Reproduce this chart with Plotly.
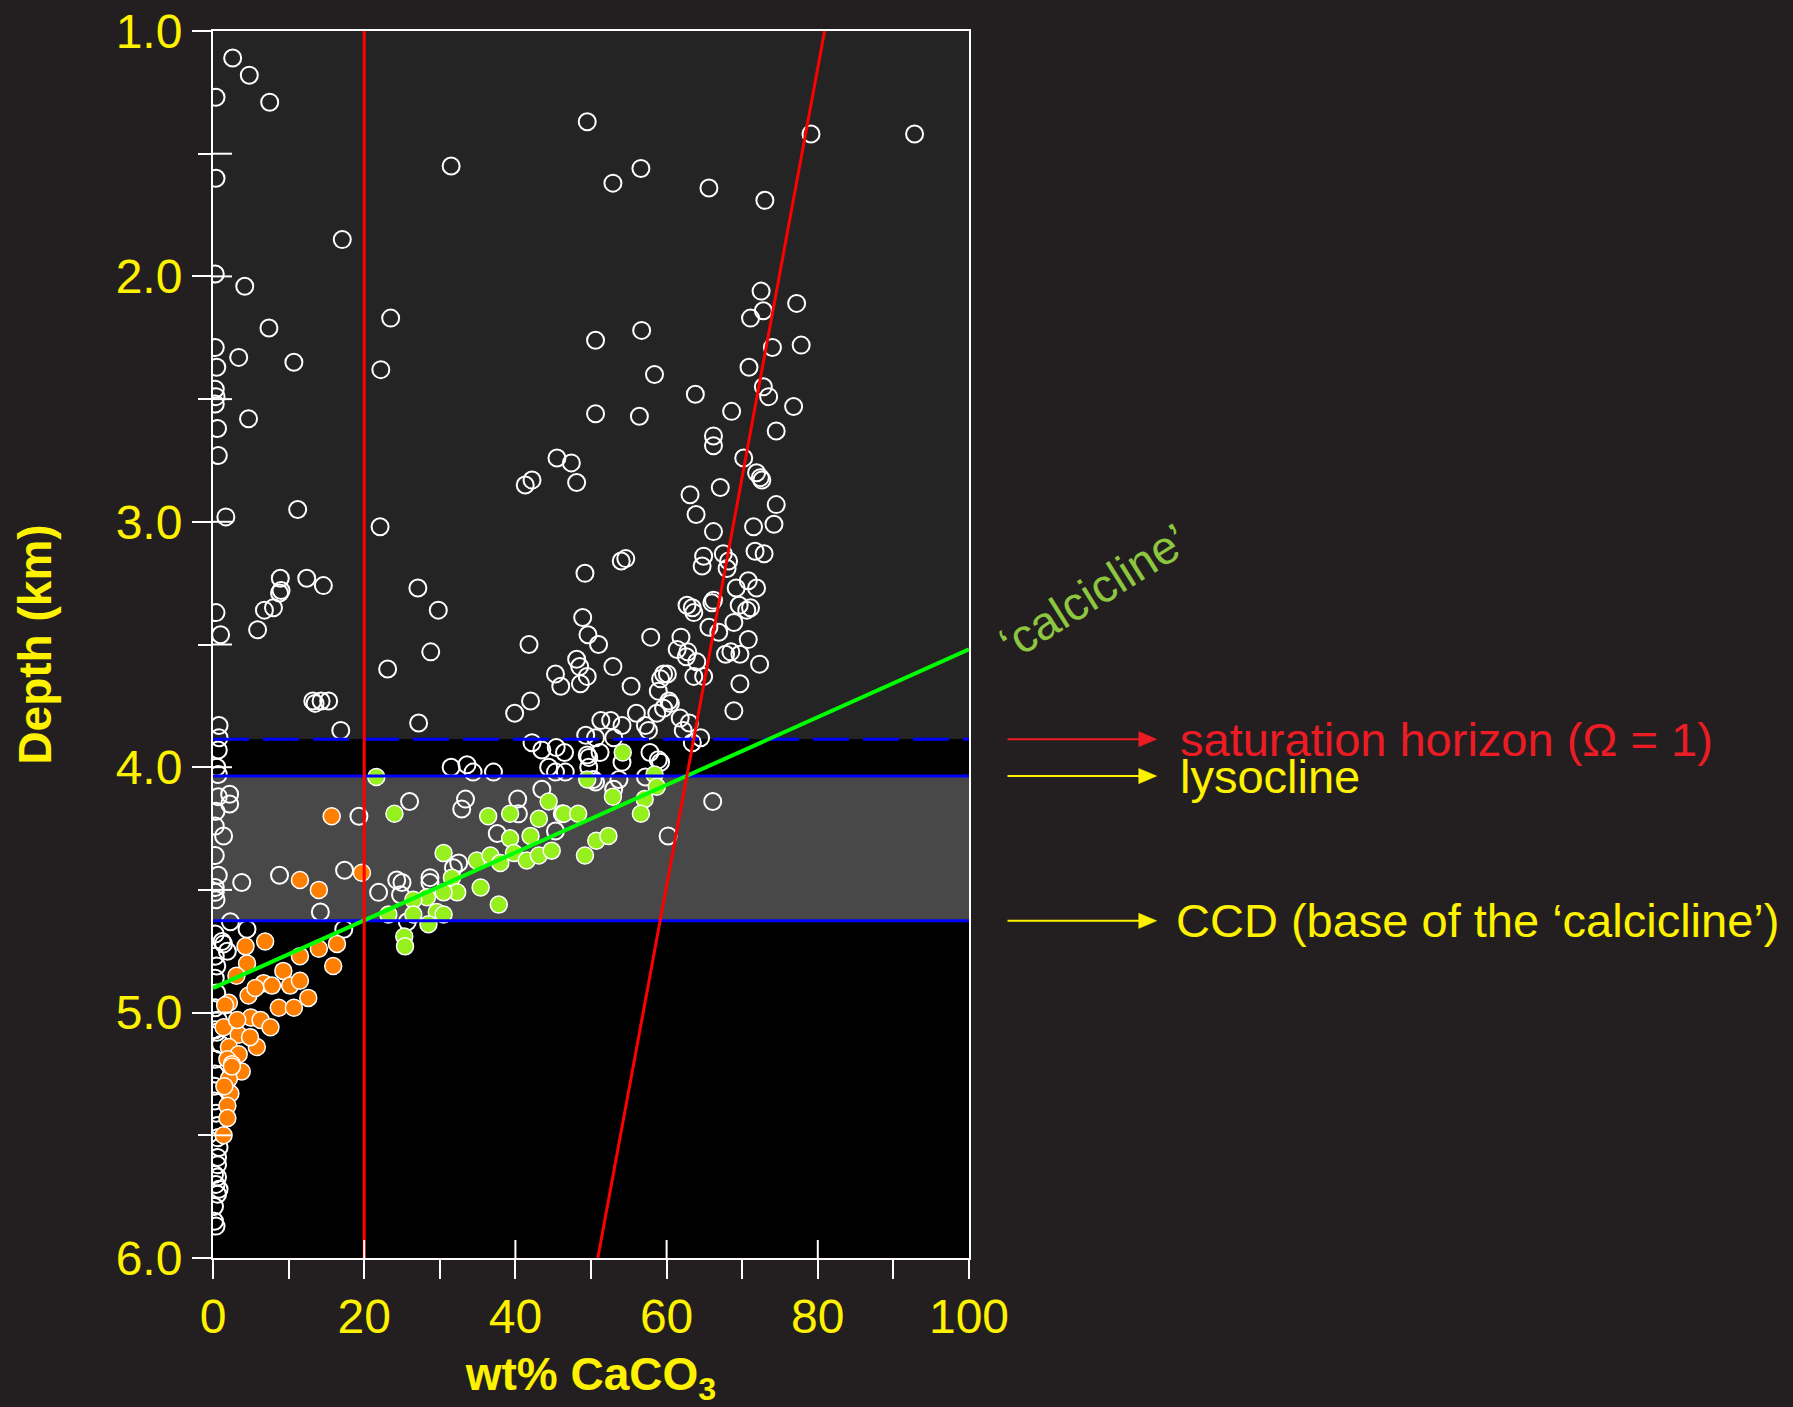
import plotly.graph_objects as go

# ---------------- data (wt% CaCO3, depth km) ----------------
WHITE_PCT = [
    2.6, 4.8, 0.4, 7.5, 49.5, 0.4, 31.5, 17.1, 0.3, 4.2, 23.5, 7.4, 50.6, 0.3, 3.4, 10.7, 22.2, 0.5, 0.3, 0.4, 0.3, 50.6, 4.7,
    79.1, 92.8, 52.9, 56.6, 65.6, 73.0, 72.5, 77.2, 72.8, 71.1, 56.7, 74.0, 77.8, 58.4, 70.9, 63.8, 72.8, 73.5, 76.8, 56.4, 68.6,
    0.6, 0.7, 45.5, 47.4, 48.1, 41.3, 42.2, 11.2, 1.7, 22.1, 49.2, 8.9, 12.4, 14.6, 9.0, 8.8, 27.1, 29.8, 6.8, 8.0, 0.4, 5.9, 1.0,
    48.9, 49.6, 51.0, 41.8, 28.8, 23.1, 48.1, 48.5, 45.3, 46.0, 49.5, 48.6, 42.0, 39.9, 13.2, 13.5, 14.3, 15.3, 16.9, 27.2, 0.8,
    0.8, 0.7, 51.3, 49.3, 42.2, 43.5, 45.4, 46.5, 49.5,
    74.5, 66.2, 66.2, 70.2, 71.9, 72.4, 72.6, 67.1, 63.1, 63.9, 74.5, 74.2, 71.5, 66.2, 71.7, 72.9, 64.9, 64.7, 67.5, 68.2, 68.0,
    54.0, 54.6, 70.8, 69.2, 71.9, 69.6, 71.1, 70.6, 66.2, 66.0, 62.7, 63.4, 63.6, 68.9, 65.6, 66.9, 70.8, 57.9, 61.9, 61.4, 62.8,
    62.6, 64.0, 67.8, 68.5, 69.7, 72.3, 52.9, 55.3, 59.6, 60.1, 59.2, 63.6, 64.9, 69.7, 58.9, 60.3, 60.5, 59.6, 56.0, 58.7, 68.9,
    52.6, 54.1, 57.2, 61.8, 63.0, 57.6, 62.2, 64.5, 63.4, 50.6, 53.0, 51.2, 57.8, 58.9,
    0.5, 0.7, 31.5, 33.6, 34.4, 37.1, 44.4, 45.3, 49.7, 50.3, 43.5, 0.7, 2.2, 2.2, 26.0, 33.4, 32.9, 40.3, 40.4, 46.2, 0.3, 1.4,
    19.3, 37.6, 45.3, 0.7, 3.8, 8.8, 17.4, 21.9, 24.3, 25.0, 24.8, 28.7, 28.7, 32.5, 31.8, 0.3, 0.3, 0.4, 14.2, 2.3, 4.5, 17.3,
    25.7, 0.3, 1.2, 1.9, 0.3, 0.5, 0.3, 0.5, 0.3, 0.7, 0.3,
    66.1, 60.2, 49.7, 54.1, 59.2, 57.2, 53.7, 50.6, 46.6, 1.4, 0.4, 0.3, 53.0,
    0.5, 0.3, 0.3, 0.2, 0.2, 0.4, 0.6, 0.8, 0.6, 0.6, 0.2, 0.6, 0.4, 0.8, 0.6, 0.2, 0.2, 0.4, 0.6, 1.0,
]
WHITE_DEPTH = [
    1.11, 1.18, 1.27, 1.29, 1.37, 1.60, 1.55, 1.85, 1.99, 2.04, 2.17, 2.21, 2.26, 2.29, 2.33, 2.35, 2.38, 2.37, 2.46, 2.49, 2.52, 2.56, 2.58,
    1.42, 1.42, 1.62, 1.56, 1.64, 1.69, 2.06, 2.11, 2.14, 2.17, 2.22, 2.29, 2.28, 2.40, 2.37, 2.48, 2.45, 2.49, 2.53, 2.57, 2.55,
    2.62, 2.73, 2.74, 2.76, 2.84, 2.85, 2.83, 2.95, 2.98, 3.02, 3.21, 3.23, 3.23, 3.26, 3.28, 3.29, 3.27, 3.36, 3.36, 3.35, 3.37, 3.44, 3.46,
    3.39, 3.46, 3.50, 3.50, 3.53, 3.60, 3.56, 3.59, 3.62, 3.67, 3.63, 3.66, 3.73, 3.78, 3.73, 3.74, 3.73, 3.73, 3.85, 3.82, 3.83,
    3.88, 3.93, 3.81, 3.87, 3.90, 3.93, 3.92, 3.94, 3.95,
    2.63, 2.65, 2.69, 2.74, 2.80, 2.82, 2.83, 2.86, 2.89, 2.97, 2.93, 3.01, 3.02, 3.04, 3.12, 3.13, 3.14, 3.18, 3.13, 3.16, 3.19,
    3.16, 3.15, 3.24, 3.27, 3.27, 3.34, 3.35, 3.36, 3.32, 3.33, 3.34, 3.35, 3.37, 3.41, 3.43, 3.45, 3.48, 3.47, 3.47, 3.52, 3.53,
    3.55, 3.57, 3.54, 3.53, 3.54, 3.58, 3.59, 3.67, 3.62, 3.62, 3.64, 3.63, 3.63, 3.66, 3.69, 3.73, 3.74, 3.76, 3.78, 3.78, 3.77,
    3.81, 3.83, 3.83, 3.80, 3.82, 3.85, 3.85, 3.88, 3.90, 3.88, 3.88, 3.94, 3.94, 3.97,
    4.00, 4.03, 4.00, 3.99, 4.02, 4.02, 4.00, 4.02, 4.00, 4.05, 4.09, 4.12, 4.11, 4.15, 4.14, 4.13, 4.17, 4.13, 4.19, 4.19, 4.24, 4.28,
    4.20, 4.27, 4.26, 4.44, 4.47, 4.44, 4.42, 4.51, 4.46, 4.47, 4.52, 4.45, 4.47, 4.39, 4.41, 4.49, 4.51, 4.54, 4.59, 4.63, 4.66, 4.66,
    4.63, 4.68, 4.71, 4.75, 4.77, 4.81, 4.86, 4.92, 4.98, 5.03, 5.07,
    4.14, 4.28, 3.96, 3.98, 3.98, 4.04, 4.05, 4.06, 4.02, 4.72, 4.18, 4.36, 4.09,
    5.08, 5.19, 5.25, 5.30, 5.36, 5.41, 5.51, 5.55, 5.59, 5.62, 5.66, 5.67, 5.70, 5.72, 5.74, 5.79, 5.85, 5.87, 5.46, 5.13,
]

ORANGE_PCT = [
    15.7, 11.5, 14.0, 19.7, 6.9, 4.3, 4.5, 3.1, 9.3, 11.5, 14.0, 16.4, 15.9, 6.7, 7.8, 10.2, 11.5, 4.7, 8.7, 10.7, 12.6,
    2.1, 5.0, 6.3, 7.6, 1.4, 3.4, 5.8, 2.1, 3.4, 1.9, 3.8, 2.1, 2.3, 1.9, 1.9, 1.4, 2.5, 1.5, 5.6, 1.6, 3.2, 4.9, 2.5,
]
ORANGE_DEPTH = [
    4.20, 4.46, 4.50, 4.43, 4.71, 4.73, 4.80, 4.85, 4.83, 4.77, 4.74, 4.72, 4.81, 4.88, 4.89, 4.89, 4.87, 4.93, 4.98, 4.98, 4.94,
    4.96, 5.02, 5.03, 5.06, 5.06, 5.09, 5.14, 5.14, 5.17, 5.19, 5.24, 5.27, 5.33, 5.38, 5.43, 5.50, 5.21, 5.30, 4.90, 4.97, 5.03, 5.10, 5.22,
]

GREEN_PCT = [
    21.6, 24.0, 36.4, 39.3, 43.1, 44.4, 46.4, 48.3, 49.5, 39.3, 42.0, 50.7, 30.5, 34.9, 36.7, 38.0, 39.8, 41.5, 43.1, 44.8, 49.2,
    31.6, 32.3, 30.5, 28.3, 26.5, 35.4, 37.8, 26.5, 29.6, 30.5, 23.2, 28.5, 25.3, 25.4, 54.2, 58.4, 58.7, 52.9, 57.1, 56.6, 52.3,
]
GREEN_DEPTH = [
    4.04, 4.19, 4.20, 4.19, 4.21, 4.14, 4.19, 4.19, 4.05, 4.29, 4.28, 4.30, 4.35, 4.38, 4.36, 4.39, 4.35, 4.38, 4.36, 4.34, 4.36,
    4.45, 4.51, 4.51, 4.53, 4.54, 4.49, 4.56, 4.60, 4.59, 4.60, 4.60, 4.64, 4.69, 4.73, 3.94, 4.03, 4.08, 4.12, 4.13, 4.19, 4.28,
]

# horizons (km)
SATURATION_HORIZON = 3.886
LYSOCLINE = 4.036
CCD = 4.626
DEPTH_TOP, DEPTH_BOTTOM = 1.0, 6.0

# reference lines
CALCICLINE_PCT = [0, 100]
CALCICLINE_DEPTH = [4.90, 3.52]
OMEGA_PCT = [80.9, 50.9]
OMEGA_DEPTH = [1.0, 6.0]
CUTOFF_PCT = [20, 20]
CUTOFF_DEPTH = [1.0, 6.0]

X_TICKS = [0, 20, 40, 60, 80, 100]
Y_TICKS = [1.0, 2.0, 3.0, 4.0, 5.0, 6.0]
Y_HALF_TICKS = [1.5, 2.0, 2.5, 3.0, 3.5, 4.0, 4.5, 5.0, 5.5]

# ---------------- style ----------------
FONT = "Liberation Sans, Arial, Helvetica, sans-serif"
YELLOW = "#FFF200"
TEXT_RED = "#ED1C24"
CALC_GREEN = "#8DC63F"
PAGE_BG = "#231F20"

fig = go.Figure()

fig.add_trace(go.Scatter(
    x=WHITE_PCT, y=WHITE_DEPTH, mode="markers", hoverinfo="skip",
    marker=dict(size=17, color="rgba(0,0,0,0)", line=dict(color="white", width=2)),
))
fig.add_trace(go.Scatter(
    x=ORANGE_PCT, y=ORANGE_DEPTH, mode="markers", hoverinfo="skip",
    marker=dict(size=17, color="#FF7F00", line=dict(color="white", width=1.5)),
))
fig.add_trace(go.Scatter(
    x=GREEN_PCT, y=GREEN_DEPTH, mode="markers", hoverinfo="skip",
    marker=dict(size=17, color="#96F01E", line=dict(color="white", width=1.5)),
))

# lines drawn after (above) the markers
for lvl, dash in [(SATURATION_HORIZON, "36px,14px"), (LYSOCLINE, "solid"), (CCD, "solid")]:
    fig.add_trace(go.Scatter(
        x=[X_TICKS[0], X_TICKS[-1]], y=[lvl, lvl], mode="lines",
        hoverinfo="skip", line=dict(color="#0000FF", width=3, dash=dash),
    ))
fig.add_trace(go.Scatter(x=CALCICLINE_PCT, y=CALCICLINE_DEPTH, mode="lines",
                         hoverinfo="skip", line=dict(color="#00FF00", width=4)))
fig.add_trace(go.Scatter(x=CUTOFF_PCT, y=CUTOFF_DEPTH, mode="lines",
                         hoverinfo="skip", line=dict(color="#FF0000", width=3)))
fig.add_trace(go.Scatter(x=OMEGA_PCT, y=OMEGA_DEPTH, mode="lines",
                         hoverinfo="skip", line=dict(color="#FF0000", width=3)))

# background bands
bands = [
    (DEPTH_TOP, SATURATION_HORIZON, "#242424"),
    (SATURATION_HORIZON, LYSOCLINE, "#000000"),
    (LYSOCLINE, CCD, "#484848"),
    (CCD, DEPTH_BOTTOM, "#000000"),
]
for y0, y1, col in bands:
    fig.add_shape(type="rect", xref="paper", yref="y", x0=0, x1=1, y0=y0, y1=y1,
                  fillcolor=col, line=dict(width=0), layer="below")

# inner halves of the crossing ticks (pixel-sized shapes anchored on the axes)
for xv in X_TICKS[1:-1]:
    fig.add_shape(type="line", xref="x", yref="y", x0=xv, x1=xv,
                  ysizemode="pixel", yanchor=DEPTH_BOTTOM, y0=0, y1=18,
                  line=dict(color="white", width=2), layer="above")
for yv in Y_HALF_TICKS:
    fig.add_shape(type="line", xref="x", yref="y", y0=yv, y1=yv,
                  xsizemode="pixel", xanchor=0, x0=0, x1=19,
                  line=dict(color="white", width=2), layer="above")

tickfont = dict(family=FONT, size=48, color=YELLOW)
titlefont = dict(family=FONT, size=46, color=YELLOW)
common = dict(showgrid=False, zeroline=False, fixedrange=True, tickcolor="white", tickwidth=2, automargin=False)

fig.update_layout(
    width=1793, height=1407,
    margin=dict(l=213, r=824, t=31, b=149, autoexpand=False),
    paper_bgcolor=PAGE_BG, plot_bgcolor="#000000",
    showlegend=False,
    xaxis=dict(range=[0, 100], tickvals=X_TICKS, ticks="outside", ticklen=19,
               minor=dict(dtick=10, tick0=0, ticks="outside", ticklen=19, tickcolor="white", tickwidth=2, showgrid=False),
               showline=True, linecolor="white", linewidth=2, mirror=True,
               tickfont=tickfont, ticklabelstandoff=-4,
               title=dict(text="<b>wt% CaCO<sub>3</sub></b>", font=titlefont, standoff=28),
               **common),
    yaxis=dict(range=[DEPTH_BOTTOM, DEPTH_TOP], tickvals=Y_TICKS, tickformat=".1f", ticks="outside", ticklen=19,
               minor=dict(dtick=0.5, tick0=1, ticks="outside", ticklen=13, tickcolor="white", tickwidth=2, showgrid=False),
               showline=True, linecolor="white", linewidth=2, mirror=True,
               tickfont=tickfont, ticklabelstandoff=0,
               title=dict(text="<b>Depth (km)</b>", font=titlefont, standoff=50),
               **common),
)

# right-hand labels with arrows (arrow drawn as line + triangular head)
ARROW_X0, ARROW_X1 = 1.0509, 1.2483       # paper coords of tail and tip
HEAD_LEN = 0.0238                          # paper units (~18 px)
HEAD_HALF = 0.031                          # km (~7.5 px)
labels = [
    (SATURATION_HORIZON, "saturation horizon (Ω = 1)", TEXT_RED, 1.276),
    (LYSOCLINE, "lysocline", YELLOW, 1.276),
    (CCD, "CCD (base of the \u2018calcicline\u2019)", YELLOW, 1.2706),
]
for lvl, txt, col, xt in labels:
    fig.add_shape(type="line", xref="paper", yref="y", x0=ARROW_X0, x1=ARROW_X1 - HEAD_LEN + 0.002,
                  y0=lvl, y1=lvl, line=dict(color=col, width=2), layer="above")
    fig.add_shape(type="path", xref="paper", yref="y",
                  path=f"M {ARROW_X1 - HEAD_LEN},{lvl - HEAD_HALF} L {ARROW_X1},{lvl} L {ARROW_X1 - HEAD_LEN},{lvl + HEAD_HALF} Z",
                  fillcolor=col, line=dict(color=col, width=0.5), layer="above")
    fig.add_annotation(text=txt, xref="paper", yref="y", x=xt, y=lvl, xanchor="left", yanchor="middle",
                       showarrow=False, font=dict(family=FONT, size=47, color=col))

fig.add_annotation(text="\u2018calcicline\u2019", xref="paper", yref="y", x=1.1649, y=3.286,
                   xanchor="center", yanchor="middle", textangle=-32, showarrow=False,
                   font=dict(family=FONT, size=47, color=CALC_GREEN))

fig.write_html("out.html")
